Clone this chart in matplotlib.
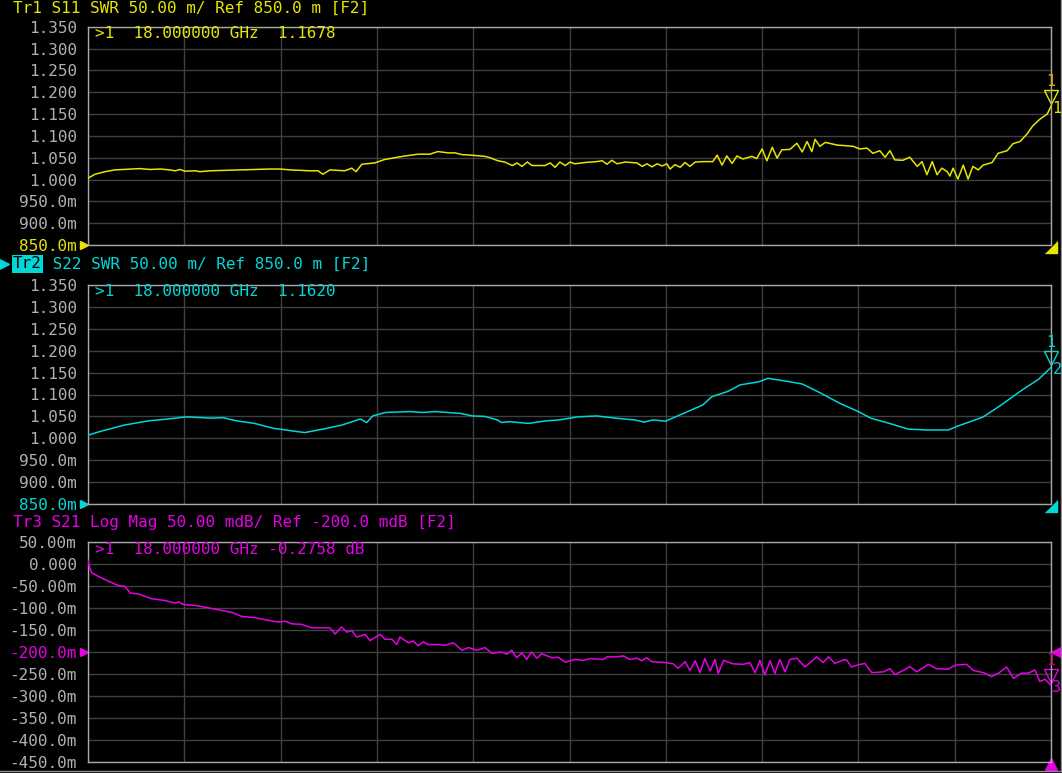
import matplotlib
matplotlib.use("Agg")
import matplotlib.pyplot as plt
from matplotlib.lines import Line2D
from matplotlib.transforms import offset_copy
import numpy as np

W, H = 1062, 773
FONT = "DejaVu Sans Mono"
FS = 11.5

YELLOW = "#e6e600"
CYAN = "#00d7d7"
MAGENTA = "#e600e6"
GRID = "#404040"
FRAME = "#a8a8a8"
LABEL = "#b0b0b0"

# ---------------------------------------------------------------------------
# Trace data (frequency in GHz)
# ---------------------------------------------------------------------------
s11_freq = [
    0.00, 0.13, 0.32, 0.50, 0.79, 0.97, 1.16, 1.35, 1.53, 1.63,
    1.72, 1.81, 2.00, 2.09, 2.28, 2.56, 2.84, 3.12, 3.40, 3.59,
    3.78, 4.15, 4.30, 4.39, 4.52, 4.80, 4.93, 5.01, 5.12, 5.36,
    5.55, 5.74, 5.93, 6.17, 6.39, 6.54, 6.73, 6.86, 6.99, 7.14,
    7.33, 7.42, 7.51, 7.66, 7.79, 7.93, 8.02, 8.11, 8.21, 8.30,
    8.54, 8.64, 8.73, 8.82, 8.92, 9.01, 9.10, 9.29, 9.51, 9.61,
    9.70, 9.79, 9.89, 10.04, 10.26, 10.36, 10.45, 10.54, 10.64, 10.73,
    10.82, 10.88, 10.97, 11.07, 11.16, 11.25, 11.35, 11.50, 11.68, 11.76,
    11.85, 11.94, 12.04, 12.13, 12.24, 12.41, 12.50, 12.60, 12.69, 12.79,
    12.88, 12.97, 13.12, 13.25, 13.35, 13.44, 13.53, 13.59, 13.68, 13.78,
    14.00, 14.30, 14.43, 14.56, 14.67, 14.80, 14.90, 14.99, 15.08, 15.23,
    15.36, 15.50, 15.59, 15.68, 15.78, 15.87, 15.96, 16.06, 16.11, 16.17,
    16.26, 16.36, 16.45, 16.54, 16.64, 16.73, 16.90, 17.01, 17.18, 17.29,
    17.42, 17.55, 17.66, 17.79, 17.93, 18.00,
]
s11_swr = [
    1.003, 1.012, 1.018, 1.022, 1.024, 1.025, 1.023, 1.024, 1.022, 1.020,
    1.023, 1.019, 1.020, 1.018, 1.020, 1.021, 1.022, 1.023, 1.024, 1.024,
    1.022, 1.020, 1.020, 1.012, 1.022, 1.020, 1.026, 1.018, 1.035, 1.038,
    1.046, 1.050, 1.054, 1.058, 1.058, 1.064, 1.061, 1.061, 1.057, 1.056,
    1.054, 1.053, 1.050, 1.043, 1.040, 1.032, 1.038, 1.030, 1.040, 1.032,
    1.032, 1.038, 1.028, 1.040, 1.032, 1.040, 1.036, 1.039, 1.041, 1.043,
    1.035, 1.044, 1.036, 1.040, 1.038, 1.030, 1.036, 1.029, 1.036, 1.031,
    1.036, 1.024, 1.034, 1.028, 1.039, 1.030, 1.040, 1.041, 1.041, 1.056,
    1.033, 1.054, 1.037, 1.054, 1.047, 1.053, 1.048, 1.070, 1.043, 1.074,
    1.049, 1.068, 1.069, 1.083, 1.063, 1.087, 1.064, 1.092, 1.076, 1.085,
    1.079, 1.076, 1.070, 1.072, 1.060, 1.066, 1.051, 1.066, 1.045, 1.044,
    1.051, 1.030, 1.041, 1.011, 1.041, 1.011, 1.026, 1.018, 1.008, 1.026,
    1.001, 1.033, 1.001, 1.030, 1.022, 1.033, 1.039, 1.060, 1.066, 1.082,
    1.087, 1.104, 1.123, 1.138, 1.150, 1.168,
]

s22_freq = [
    0.00, 0.21, 0.67, 1.14, 1.49, 1.84, 2.30, 2.53, 2.77, 3.11,
    3.46, 3.81, 4.05, 4.39, 4.74, 5.09, 5.21, 5.32, 5.56, 6.02,
    6.26, 6.49, 6.95, 7.19, 7.42, 7.65, 7.73, 7.88, 8.23, 8.58,
    8.81, 9.16, 9.51, 9.86, 10.21, 10.40, 10.56, 10.79, 11.02, 11.32,
    11.49, 11.66, 11.96, 12.19, 12.54, 12.71, 13.12, 13.35, 13.70, 14.05,
    14.40, 14.63, 14.98, 15.33, 15.68, 16.08, 16.26, 16.72, 17.07, 17.42,
    17.77, 18.00,
]
s22_swr = [
    1.007, 1.015, 1.030, 1.040, 1.044, 1.049, 1.046, 1.047, 1.040, 1.034,
    1.023, 1.017, 1.013, 1.021, 1.030, 1.044, 1.036, 1.051, 1.059, 1.061,
    1.059, 1.061, 1.057, 1.051, 1.050, 1.042, 1.036, 1.038, 1.034, 1.040,
    1.042, 1.049, 1.051, 1.046, 1.042, 1.037, 1.042, 1.039, 1.051, 1.067,
    1.076, 1.095, 1.107, 1.122, 1.129, 1.137, 1.129, 1.124, 1.103, 1.080,
    1.061, 1.046, 1.034, 1.021, 1.019, 1.019, 1.028, 1.048, 1.076, 1.107,
    1.135, 1.162,
]

s21_freq = [
    0.00, 0.03, 0.07, 0.19, 0.38, 0.57, 0.69, 0.79, 0.94, 1.19,
    1.44, 1.63, 1.69, 1.78, 2.00, 2.31, 2.56, 2.69, 2.87, 3.12,
    3.37, 3.56, 3.68, 3.81, 3.99, 4.18, 4.52, 4.62, 4.74, 4.84,
    4.93, 5.02, 5.18, 5.27, 5.46, 5.55, 5.68, 5.77, 5.83, 5.99,
    6.08, 6.17, 6.27, 6.36, 6.55, 6.67, 6.83, 6.99, 7.11, 7.27,
    7.42, 7.55, 7.73, 7.83, 7.92, 8.01, 8.11, 8.20, 8.29, 8.39,
    8.48, 8.67, 8.79, 8.92, 9.10, 9.26, 9.38, 9.63, 9.70, 9.88,
    10.01, 10.13, 10.26, 10.35, 10.44, 10.54, 10.79, 10.94, 11.03, 11.16,
    11.25, 11.35, 11.44, 11.53, 11.63, 11.72, 11.78, 11.88, 12.06, 12.25,
    12.37, 12.47, 12.56, 12.65, 12.75, 12.84, 12.93, 13.03, 13.12, 13.25,
    13.40, 13.50, 13.62, 13.74, 13.84, 13.96, 14.12, 14.18, 14.27, 14.40,
    14.52, 14.65, 14.87, 14.99, 15.08, 15.24, 15.36, 15.49, 15.71, 15.86,
    16.08, 16.21, 16.42, 16.55, 16.74, 16.89, 17.02, 17.17, 17.30, 17.45,
    17.58, 17.70, 17.79, 17.89, 18.00,
]
s21_mdb = [
    8, -8, -20, -28, -39, -49, -51, -66, -68, -79,
    -83, -89, -86, -92, -94, -101, -107, -110, -119, -122,
    -128, -132, -130, -136, -137, -145, -145, -159, -143, -155,
    -151, -166, -160, -174, -160, -171, -171, -183, -166, -179,
    -175, -186, -177, -183, -183, -185, -179, -196, -190, -196,
    -190, -203, -200, -205, -196, -213, -202, -217, -200, -214,
    -204, -213, -212, -223, -217, -219, -215, -217, -211, -211,
    -209, -217, -214, -220, -213, -222, -224, -227, -237, -222,
    -242, -220, -247, -215, -243, -217, -249, -219, -227, -228,
    -224, -247, -219, -252, -220, -249, -217, -245, -217, -214,
    -234, -224, -211, -224, -211, -226, -218, -218, -234, -229,
    -226, -247, -245, -238, -251, -242, -233, -245, -228, -238,
    -239, -230, -228, -242, -247, -256, -248, -234, -260, -248,
    -248, -241, -267, -262, -276,
]

# marker 1 readouts
marker_freq = 18.0
s11_marker = 1.1678
s22_marker = 1.1620
s21_marker = -275.8

# scale settings
swr_ticks = [1.35, 1.30, 1.25, 1.20, 1.15, 1.10, 1.05, 1.00, 0.95, 0.90, 0.85]
swr_labels = ["1.350", "1.300", "1.250", "1.200", "1.150", "1.100",
              "1.050", "1.000", "950.0m", "900.0m", "850.0m"]
swr_ref = 0.85
s21_ticks = [50, 0, -50, -100, -150, -200, -250, -300, -350, -400, -450]
s21_labels = ["50.00m", "0.000", "-50.00m", "-100.0m", "-150.0m", "-200.0m",
              "-250.0m", "-300.0m", "-350.0m", "-400.0m", "-450.0m"]
s21_ref = -200


def px(x, y):
    """Screen pixel -> figure fraction."""
    return x / W, 1 - y / H


def draw_panel(fig, top, bottom, freq, vals, ticks, labels, ref, color,
               mk_val, mk_num, mk_one_color):
    left, right = 88, 1051
    ax = fig.add_axes([left / W, 1 - bottom / H, (right - left) / W,
                       (bottom - top) / H], facecolor="black")
    ax.set_xlim(0, 18)
    ax.set_ylim(min(ticks), max(ticks))
    ax.set_xticks(np.linspace(0, 18, 11))
    ax.set_xticklabels([])
    ax.set_yticks(ticks)
    ax.set_yticklabels(labels)
    ax.tick_params(length=0, pad=8, labelsize=FS, labelcolor=LABEL)
    for lbl in ax.get_yticklabels():
        lbl.set_fontfamily(FONT)
    for t, lbl in zip(ticks, ax.get_yticklabels()):
        if t == ref:
            lbl.set_color(color)
    ax.grid(True, color=GRID, lw=1.0)
    ax.set_axisbelow(True)
    for sp in ax.spines.values():
        sp.set_color(FRAME)
        sp.set_linewidth(1.0)

    ax.plot(freq, vals, color=color, lw=1.1, zorder=3)

    # reference level pointer on the left
    ax.plot([0], [ref], marker=">", ms=6, color=color, clip_on=False,
            transform=offset_copy(ax.get_yaxis_transform(), fig=fig,
                                  x=-4, y=0, units="dots"))

    # marker 1 symbol at the end of the sweep
    ax.plot([marker_freq], [mk_val], marker="v", ms=10, mfc="none",
            mec=color, mew=1.0, clip_on=False,
            transform=offset_copy(ax.transData, fig=fig, x=0, y=9,
                                  units="dots"))
    ax.text(marker_freq, mk_val, "1", color=mk_one_color, fontsize=11,
            family=FONT, ha="center", va="center", clip_on=False,
            transform=offset_copy(ax.transData, fig=fig, x=0, y=25,
                                  units="dots"))
    ax.text(marker_freq, mk_val, mk_num, color=color, fontsize=11,
            family=FONT, ha="center", va="center", clip_on=False,
            transform=offset_copy(ax.transData, fig=fig, x=6, y=-2,
                                  units="dots"))
    return ax


fig = plt.figure(figsize=(W / 100, H / 100), dpi=100)
fig.patch.set_facecolor("black")

ax1 = draw_panel(fig, 26.7, 245, s11_freq, s11_swr, swr_ticks, swr_labels,
                 swr_ref, YELLOW, s11_marker, "1", "#e6b400")
ax2 = draw_panel(fig, 285, 504, s22_freq, s22_swr, swr_ticks, swr_labels,
                 swr_ref, CYAN, s22_marker, "2", CYAN)
ax3 = draw_panel(fig, 542, 762, s21_freq, s21_mdb, s21_ticks, s21_labels,
                 s21_ref, MAGENTA, s21_marker, "3", "#c8006e")

# stimulus pointers in the lower right corners
corner = [(-1, -1), (1, -1), (1, 1)]
for ax, col in ((ax1, YELLOW), (ax2, CYAN)):
    ax.plot([1], [0], marker=corner, ms=9, color=col, clip_on=False,
            transform=offset_copy(ax.transAxes, fig=fig, x=0, y=-2,
                                  units="dots"))
ax3.plot([1], [0], marker="^", ms=8, color=MAGENTA, clip_on=False,
         transform=offset_copy(ax3.transAxes, fig=fig, x=0, y=-2,
                               units="dots"))
ax3.plot([1], [s21_ref], marker="<", ms=7, color=MAGENTA, clip_on=False,
         transform=offset_copy(ax3.get_yaxis_transform(), fig=fig, x=5,
                               y=0, units="dots"))

# trace titles
txt = dict(family=FONT, fontsize=FS, ha="left", va="center")
fig.text(*px(13, 8), "Tr1 S11 SWR 50.00 m/ Ref 850.0 m [F2]",
         color=YELLOW, **txt)
fig.text(*px(13, 264), "Tr2", color="black",
         bbox=dict(boxstyle="square,pad=0.08", fc=CYAN, ec="none"), **txt)
fig.text(*px(43, 264), " S22 SWR 50.00 m/ Ref 850.0 m [F2]",
         color=CYAN, **txt)
fig.add_artist(Line2D([4 / W], [1 - 264 / H], marker=">", ms=7,
                      color=CYAN, lw=0))
fig.text(*px(13, 523), "Tr3 S21 Log Mag 50.00 mdB/ Ref -200.0 mdB [F2]",
         color=MAGENTA, **txt)

# marker readouts
fig.text(*px(95, 33), ">1  18.000000 GHz  1.1678", color=YELLOW, **txt)
fig.text(*px(95, 291), ">1  18.000000 GHz  1.1620", color=CYAN, **txt)
fig.text(*px(95, 550), ">1  18.000000 GHz -0.2758 dB", color=MAGENTA, **txt)

# screen border
fig.add_artist(Line2D([0, 1060.5 / W], [1 - 771 / H] * 2, color="#909090",
                      lw=1))
fig.add_artist(Line2D([1060.5 / W] * 2, [1 - 771 / H, 1], color="#909090",
                      lw=1))

fig.savefig("out.png", dpi=100, facecolor=fig.get_facecolor())
